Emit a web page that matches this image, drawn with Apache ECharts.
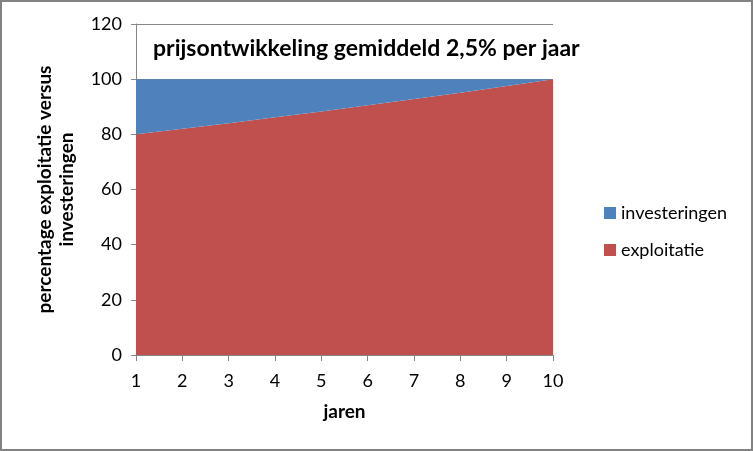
<!DOCTYPE html>
<html>
<head>
<meta charset="utf-8">
<script src="https://cdn.jsdelivr.net/npm/echarts@6/dist/echarts.min.js"></script>
<style>
html,body{margin:0;padding:0;background:#fff;}
#frame{position:absolute;left:0;top:0;width:753px;height:451px;box-sizing:border-box;border:2px solid #828282;}
#chart{position:absolute;left:0;top:0;width:753px;height:451px;}
</style>
</head>
<body>
<div id="chart"></div>
<div id="frame"></div>
<script>
const years = ['1','2','3','4','5','6','7','8','9','10'];
const exploitatie = [80, 82, 84, 86.2, 88.3, 90.5, 92.8, 95.1, 97.5, 100];
const investeringen = [20, 18, 16, 13.8, 11.7, 9.5, 7.2, 4.9, 2.5, 0];
const yTicks = [0, 20, 40, 60, 80, 100, 120];
const titleText = 'prijsontwikkeling gemiddeld 2,5% per jaar';
const xName = 'jaren';
const yName = 'percentage exploitatie versus\ninvesteringen';

const FONT = 'Lato';
const chart = echarts.init(document.getElementById('chart'), null, {renderer: 'canvas'});
chart.setOption({
  animation: false,
  backgroundColor: '#ffffff',
  title: {
    text: titleText,
    left: 148, top: 32,
    textStyle: {fontFamily: FONT, fontWeight: 'bold', fontSize: 23, color: '#000'}
  },
  legend: {
    orient: 'vertical',
    left: 599, top: 199,
    itemWidth: 12, itemHeight: 12,
    itemGap: 19,
    icon: 'rect',
    data: ['investeringen', 'exploitatie'],
    textStyle: {fontFamily: FONT, fontSize: 18, color: '#000', padding: [0, 0, 0, 0]}
  },
  grid: {left: 136, right: 200, top: 24, bottom: 96, containLabel: false},
  xAxis: {
    type: 'category',
    data: years,
    boundaryGap: false,
    name: xName,
    nameLocation: 'middle',
    nameGap: 47,
    nameTextStyle: {fontFamily: FONT, fontWeight: 'bold', fontSize: 19, color: '#000'},
    axisLine: {lineStyle: {color: '#868686', width: 1}},
    axisTick: {show: true, alignWithLabel: true, length: 6, lineStyle: {color: '#868686'}},
    axisLabel: {fontFamily: FONT, fontSize: 18, color: '#000', margin: 17},
    splitLine: {show: false}
  },
  yAxis: {
    type: 'value',
    min: yTicks[0], max: yTicks[yTicks.length - 1], interval: 20,
    name: yName,
    nameLocation: 'middle',
    nameGap: 58,
    nameRotate: 90,
    nameTextStyle: {fontFamily: FONT, fontWeight: 'bold', fontSize: 19, color: '#000', lineHeight: 22},
    axisLine: {show: true, lineStyle: {color: '#868686', width: 1}},
    axisTick: {show: true, length: 5, lineStyle: {color: '#868686'}},
    axisLabel: {fontFamily: FONT, fontSize: 18, color: '#000', margin: 14},
    splitLine: {show: true, lineStyle: {color: '#868686', width: 1}}
  },
  series: [
    {
      name: 'exploitatie', type: 'line', stack: 'total',
      data: exploitatie, symbol: 'none',
      lineStyle: {width: 0}, areaStyle: {color: '#C0504D', opacity: 1},
      itemStyle: {color: '#C0504D'}
    },
    {
      name: 'investeringen', type: 'line', stack: 'total',
      data: investeringen, symbol: 'none',
      lineStyle: {width: 0}, areaStyle: {color: '#4F81BD', opacity: 1},
      itemStyle: {color: '#4F81BD'}
    }
  ]
});
</script>
</body>
</html>
